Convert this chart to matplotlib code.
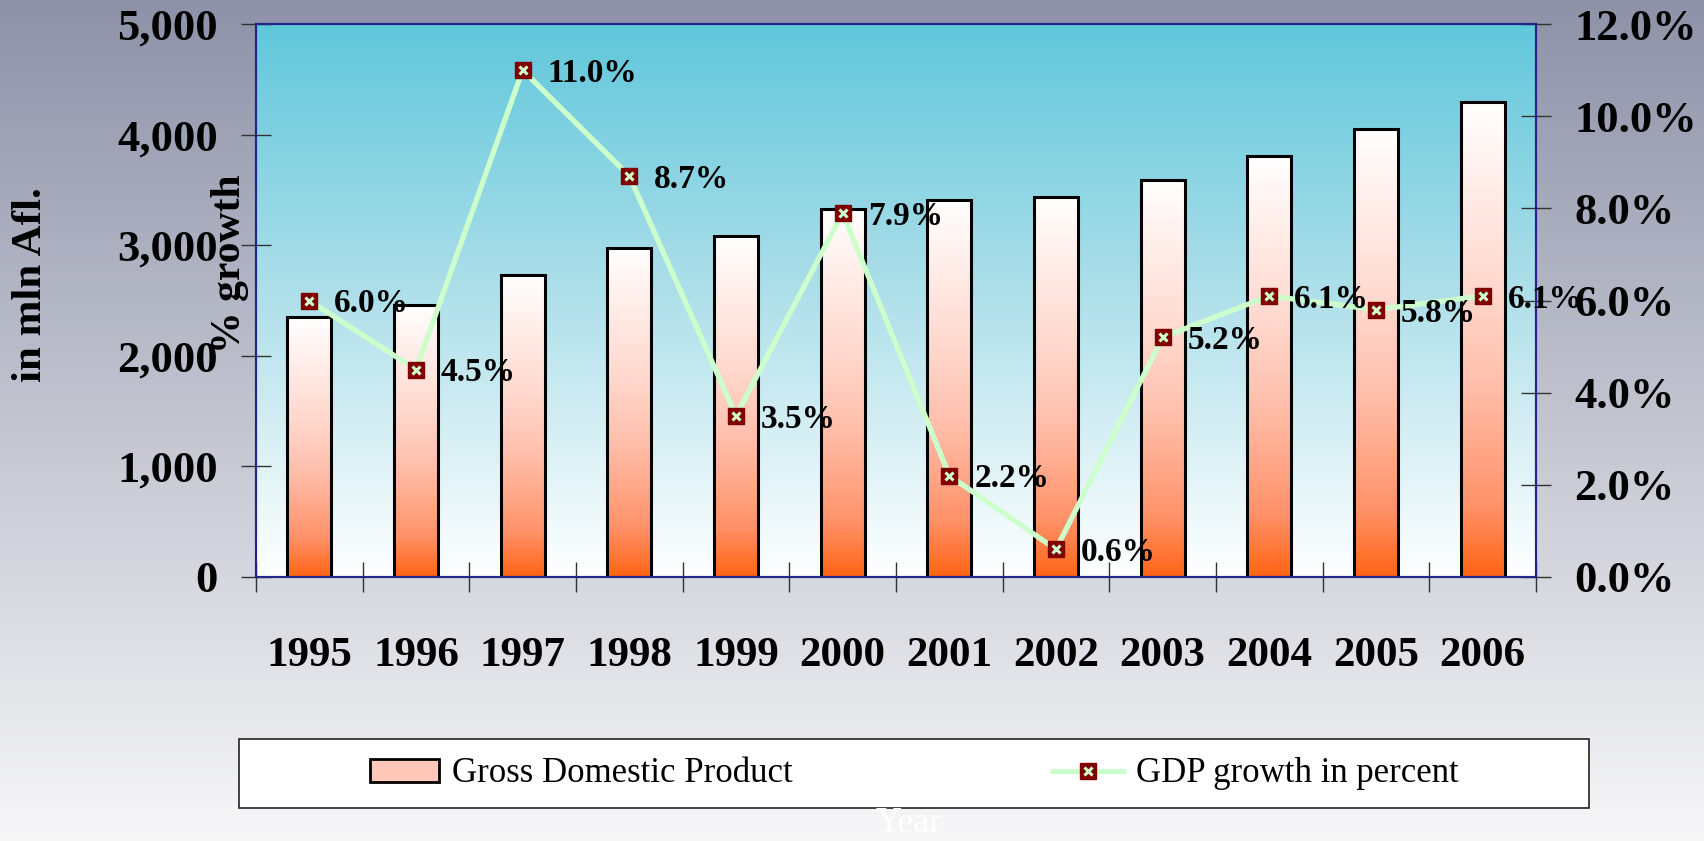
import numpy as np
import matplotlib
matplotlib.use("Agg")
import matplotlib.pyplot as plt
from matplotlib.colors import LinearSegmentedColormap
from matplotlib.patches import Patch, Rectangle
from matplotlib.lines import Line2D

plt.rcParams.update({
    "font.family": "serif",
    "font.serif": ["Liberation Serif", "DejaVu Serif"],
})

# data
years = ["1995", "1996", "1997", "1998", "1999", "2000",
         "2001", "2002", "2003", "2004", "2005", "2006"]
gdp = [2350, 2460, 2727, 2976, 3084, 3330, 3409, 3438, 3591, 3811, 4055, 4298]
growth = [6.0, 4.5, 11.0, 8.7, 3.5, 7.9, 2.2, 0.6, 5.2, 6.1, 5.8, 6.1]
growth_labels = [f"{g:.1f}%" for g in growth]
gdp_ticks = [0, 1000, 2000, 3000, 4000, 5000]
growth_ticks = [0, 2, 4, 6, 8, 10, 12]

W, H = 1704, 841
fig = plt.figure(figsize=(W / 100, H / 100), dpi=100)
grad = np.linspace(0, 1, 256).reshape(-1, 1)

# figure background gradient
bg = fig.add_axes([0, 0, 1, 1], zorder=-10)
bg_cmap = LinearSegmentedColormap.from_list("bg", ["#8e92a8", "#f7f7f8"])
bg.imshow(grad, cmap=bg_cmap, aspect="auto", extent=[0, 1, 0, 1])
bg.set_xlim(0, 1)
bg.set_ylim(0, 1)
bg.axis("off")

ax = fig.add_axes([256 / W, 1 - 577 / H, (1536 - 256) / W, (577 - 24) / H])
ax.patch.set_visible(False)
plot_cmap = LinearSegmentedColormap.from_list("plot", ["#60c7db", "#b0e0ea", "#ffffff"])
ax.imshow(grad, cmap=plot_cmap, aspect="auto", extent=[0, 1, 0, 1],
          transform=ax.transAxes, zorder=0)

# bars with a vertical gradient each
x = np.arange(len(years))
bar_w = 0.41
bar_cmap = LinearSegmentedColormap.from_list(
    "bar", [(0, "#ffffff"), (0.4, "#ffd7cd"), (0.6, "#ffbeaa"),
            (0.85, "#ff926a"), (1, "#ff6414")])
bars = ax.bar(x, gdp, width=bar_w, facecolor="none", edgecolor="black",
              linewidth=2.2, zorder=3)
for b in bars:
    ax.imshow(grad, cmap=bar_cmap, aspect="auto", zorder=2,
              extent=[b.get_x(), b.get_x() + b.get_width(), 0, b.get_height()])

ax.set_xlim(-0.5, 11.5)
ax.set_ylim(0, 5000)
ax.set_xticks(np.arange(-0.5, 12, 1))
ax.set_xticklabels([])
ax.set_xticks(x, minor=True)
ax.set_xticklabels(years, minor=True, fontsize=31, fontweight="bold")
ax.tick_params(axis="x", which="major", direction="inout", length=21.6,
               width=1, color="#333333")
ax.tick_params(axis="x", which="minor", length=0, pad=43)
ax.set_yticks(gdp_ticks)
ax.set_yticklabels([f"{v:,}" for v in gdp_ticks], fontsize=32, fontweight="bold")
ax.tick_params(axis="y", direction="inout", length=21.6, width=1,
               color="#333333", pad=16.6)

# growth line on the right axis
ax2 = ax.twinx()
ax2.set_ylim(0, 12)
ax2.plot(x, growth, color="#ccffcc", lw=3.8, zorder=3, solid_capstyle="round")
ax2.plot(x, growth, ls="none", marker="s", ms=11.5, mfc="#800000", mec="#800000", zorder=4)
ax2.plot(x, growth, ls="none", marker="x", ms=6, mew=2.2, color="#ccffcc", zorder=5)
for xi, g, lab in zip(x, growth, growth_labels):
    ax2.annotate(lab, (xi, g), xytext=(18, -8.5), textcoords="offset points",
                 ha="left", va="baseline", fontsize=24, fontweight="bold",
                 annotation_clip=False, zorder=6)
ax2.set_yticks(growth_ticks)
ax2.set_yticklabels([f"{v:.1f}%" for v in growth_ticks], fontsize=32, fontweight="bold")
ax2.tick_params(axis="y", direction="inout", length=21.6, width=1,
                color="#333333", pad=16.6)

for a in (ax, ax2):
    for s in a.spines.values():
        s.set_color("#24248c")
        s.set_linewidth(1.5)

# axis titles
fig.text(31 / W, 1 - 285 / H, "in mln Afl.", rotation=90, ha="center", va="center",
         fontsize=31, fontweight="bold")
fig.text(230 / W, 1 - 264 / H, "% growth", rotation=90, ha="center", va="center",
         fontsize=30, fontweight="bold")
fig.text(909 / W, 1 - 823 / H, "Year", color="white", fontsize=26,
         ha="center", va="center")

# legend box
fig.add_artist(Rectangle((239 / W, 1 - 808 / H), (1589 - 239) / W, (808 - 739) / H,
                         transform=fig.transFigure, facecolor="white",
                         edgecolor="#222222", lw=1.2))
bar_handle = Patch(facecolor="#ffc8b8", edgecolor="black", lw=2)
line_handle = Line2D([], [], color="#ccffcc", lw=3.8, marker="s", ms=11.5,
                     mfc="#800000", mec="#800000")
x_handle = Line2D([], [], ls="none", marker="x", ms=6, mew=2.2, color="#ccffcc")
fig.legend([bar_handle, (line_handle, x_handle)],
           ["Gross Domestic Product", "GDP growth in percent"],
           loc="center", bbox_to_anchor=(914 / W, 1 - 774 / H), ncol=2,
           frameon=False, fontsize=25, handlelength=2.0, handleheight=0.66,
           handletextpad=0.37, columnspacing=7.5)

fig.savefig("out.png", dpi=100)
